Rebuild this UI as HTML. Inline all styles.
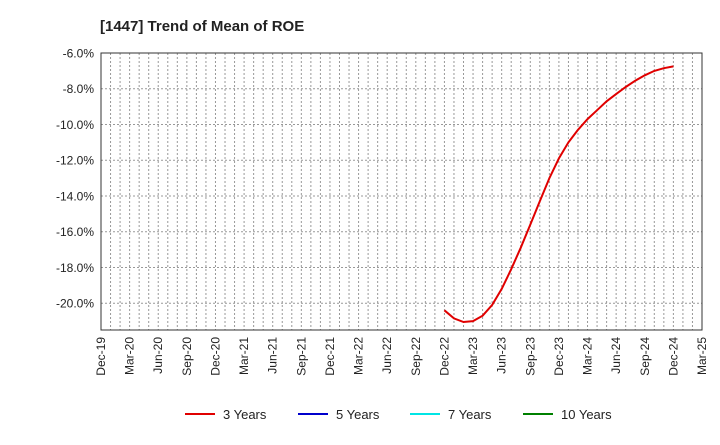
<!DOCTYPE html>
<html><head><meta charset="utf-8"><style>
body{margin:0;background:#fff;font-family:"Liberation Sans",sans-serif}
</style></head><body>
<svg id="c" width="720" height="440" xmlns="http://www.w3.org/2000/svg"></svg>
<script>
const xLabels=["Dec-19","Mar-20","Jun-20","Sep-20","Dec-20","Mar-21","Jun-21","Sep-21","Dec-21","Mar-22","Jun-22","Sep-22","Dec-22","Mar-23","Jun-23","Sep-23","Dec-23","Mar-24","Jun-24","Sep-24","Dec-24","Mar-25"];
const yTicks=[-6,-8,-10,-12,-14,-16,-18,-20];
const series3Start=36; // month index from Dec-19
const series3=[-20.4,-20.85,-21.05,-21.0,-20.7,-20.1,-19.2,-18.1,-16.9,-15.6,-14.3,-13.0,-11.9,-11.0,-10.3,-9.7,-9.2,-8.7,-8.3,-7.9,-7.55,-7.25,-7.0,-6.85,-6.75];
const legendItems=[["3 Years","#e00000"],["5 Years","#0000cc"],["7 Years","#00e5e5"],["10 Years","#008000"]];
const L=101,R=702,T=53,B=330,yMax=-6,yMin=-21.5,months=63;
const X=m=>L+(R-L)*m/months, Y=v=>T+(yMax-v)/(yMax-yMin)*(B-T);
const svg=document.getElementById('c'),NS="http://www.w3.org/2000/svg";
function mk(t,a,p){const e=document.createElementNS(NS,t);for(const k in a)e.setAttribute(k,a[k]);(p||svg).appendChild(e);return e;}
const title=mk('text',{x:100,y:31,'font-size':15,'font-weight':'bold',fill:'#222'});title.textContent="[1447]  Trend of Mean of ROE";


mk('rect',{x:L,y:T,width:R-L,height:B-T,fill:'#fff',stroke:'none'});
for(let m=1;m<months;m++){const g=mk('line',{x1:X(m),x2:X(m),y1:T,y2:B,stroke:'#999','stroke-dasharray':'2,2','stroke-width':1});

}
yTicks.forEach(v=>{const y=Y(v);const g=mk('line',{x1:L,x2:R,y1:y,y2:y,stroke:'#999','stroke-dasharray':'2,2'});


const t=mk('text',{x:L-7,y:y+4.5,'text-anchor':'end','font-size':12,fill:'#222'});t.textContent=v.toFixed(1)+"%";

});
const fr=mk('rect',{x:L,y:T,width:R-L,height:B-T,fill:'none',stroke:'#333','stroke-width':1});


xLabels.forEach((s,i)=>{const x=X(i*3);const t=mk('text',{transform:`translate(${x+4},${B+7}) rotate(-90)`,'text-anchor':'end','font-size':12,fill:'#222'});t.textContent=s;

});
const pts=series3.map((v,i)=>X(series3Start+i).toFixed(1)+","+Y(v).toFixed(1)).join(" ");
const pl=mk('polyline',{points:pts,fill:'none',stroke:'#e00000','stroke-width':2});


const lx=[185,298,410,523];
legendItems.forEach((it,i)=>{const g=mk('g',{});


mk('line',{x1:lx[i],x2:lx[i]+30,y1:414,y2:414,stroke:it[1],'stroke-width':2},g);
const t=mk('text',{x:lx[i]+38,y:419,'font-size':13,fill:'#222'},g);t.textContent=it[0];});
</script>
</body></html>
